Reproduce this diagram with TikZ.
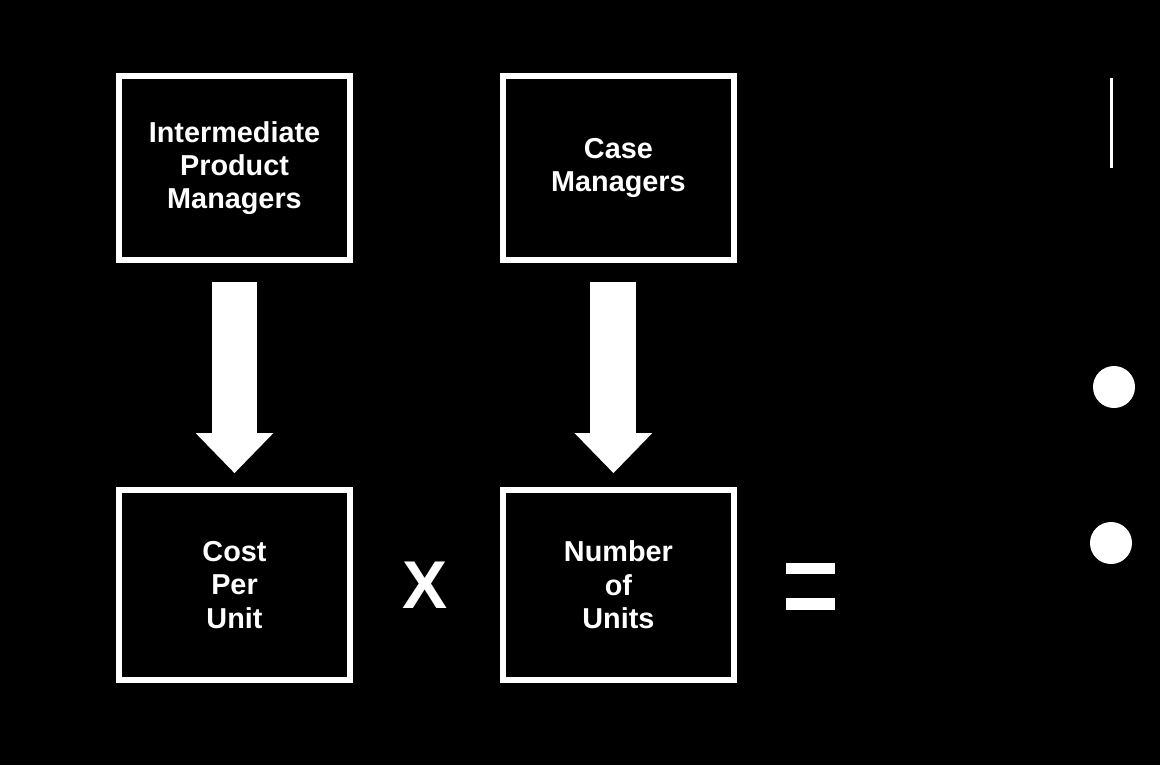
\documentclass[tikz,border=0pt]{standalone}
\usepackage{fontspec}
\setmainfont{Liberation Sans}
\usetikzlibrary{arrows.meta}

\begin{document}
\begin{tikzpicture}[x=0.02cm,y=-0.02cm,node distance=7.68cm,
  box/.style={draw=white,line width=0.11cm,minimum width=4.62cm,minimum height=3.69cm,
    align=center,text=white,font=\bfseries\fontsize{16.4}{19}\selectfont},
  flow/.style={white,line width=0.92cm,-{Triangle[width=1.5cm,length=0.8cm]},
    shorten <=0.38cm,shorten >=0.28cm},
  dot/.style={circle,fill=white,minimum size=0.84cm,inner sep=0pt}]
  \fill[black] (0,0) rectangle (1160,765);

  \node[box] (imp) at (234.5,168) {Intermediate\\Product\\Managers};
  \node[box] (cm)  [right of=imp] {Case\\Managers};
  \node[box, minimum height=3.8cm] (cpu) [below of=imp, node distance=8.34cm] {Cost\\Per\\Unit};
  \node[box, minimum height=3.8cm] (nou) [right of=cpu] {Number\\of\\Units};
  \node[text=white, font=\bfseries\fontsize{38.5}{40}\selectfont] (times) [right of=cpu, node distance=3.82cm] {X};
  \node[coordinate] (eq) [right of=nou, node distance=3.85cm] {};

  \draw[flow] (imp) -- (cpu);
  \draw[flow] ([xshift=-0.1cm]cm.south) -- ([xshift=-0.1cm]nou.north);

  % equals sign
  \fill[white] ([shift={(-24.5,-22)}]eq) rectangle ++(49,11);
  \fill[white] ([shift={(-24.5,13)}]eq) rectangle ++(49,12);

  \node[dot] (upper) at (1114,387) {};
  \node[dot] (lower) at (1111,543) {};
  \draw[white, line width=0.06cm] (1111,78) -- (1111,168);
\end{tikzpicture}
\end{document}
